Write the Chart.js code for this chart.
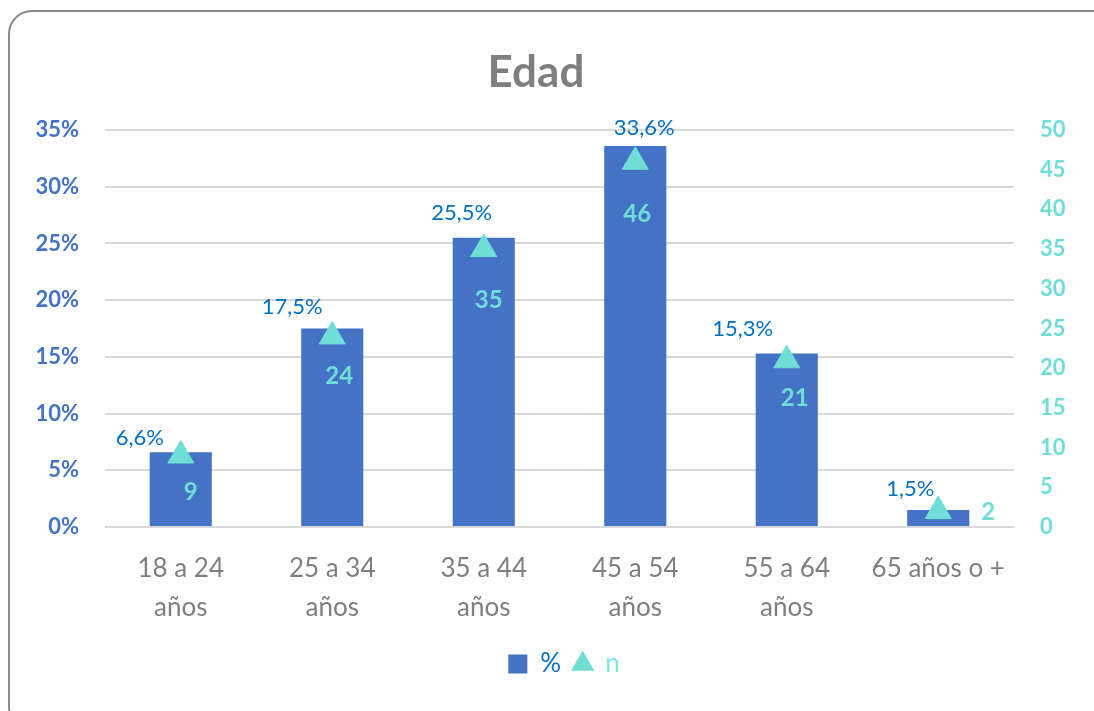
<!DOCTYPE html>
<html>
<head>
<meta charset="utf-8">
<script src="https://cdn.jsdelivr.net/npm/chart.js@4.4.1/dist/chart.umd.min.js"></script>
<style>
    html, body { margin: 0; padding: 0; background: #fff; overflow: hidden; }
    #wrap { position: relative; width: 1094px; height: 711px; }
    #frame {
        position: absolute; left: 8px; top: 10px; width: 1110px; height: 720px;
        border: 2px solid #8a8a8a; border-radius: 24px; box-sizing: border-box;
    }
    #edadChart { position: absolute; left: 0; top: 0; }
</style>
</head>
<body>
<div id="wrap">
    <div id="frame"></div>
    <canvas id="edadChart" width="1094" height="711"></canvas>
</div>
<script>
// ================================
// EDAD - BAR + TRIANGLE CHART
// ================================

const categories = [["18 a 24", "años"], ["25 a 34", "años"], ["35 a 44", "años"], ["45 a 54", "años"], ["55 a 64", "años"], "65 años o +"];
const pctValues = [6.6, 17.5, 25.5, 33.6, 15.3, 1.5];
const nValues = [9, 24, 35, 46, 21, 2];
const pctTicks = [0, 5, 10, 15, 20, 25, 30, 35];
const nTicks = [0, 5, 10, 15, 20, 25, 30, 35, 40, 45, 50];
const chartTitle = "Edad";

const BLUE = "#4472C4";
const LABEL_BLUE = "#0070C0";
const TURQ = "#6EDED6";
const FONT = "Lato, 'Open Sans', sans-serif";

/* ------------------------------
   TITLE + DATA LABELS (Excel-like placement)
------------------------------ */
const pctOffsets = [[-41, -14], [-40, -22], [-22, -25], [9, -18], [-44, -25], [-28, -21]];
const nOffsets = [[10, 37], [7, 40], [5, 51], [2, 53], [8, 38], [50, 1]];

const labelPlugin = {
    id: "edadLabels",
    afterDatasetsDraw(chart) {
        const c = chart.ctx;
        c.save();
        c.textAlign = "center";
        c.textBaseline = "middle";

        // title sits a bit left of the canvas centre, like the original
        c.font = "bold 44px " + FONT;
        c.fillStyle = "#7F7F7F";
        c.fillText(chartTitle, 536, 73);

        chart.getDatasetMeta(0).data.forEach((bar, i) => {
            c.font = "22px " + FONT;
            c.fillStyle = LABEL_BLUE;
            c.fillText(pctValues[i].toFixed(1).replace(".", ",") + "%", bar.x + pctOffsets[i][0], bar.y + pctOffsets[i][1]);
        });

        chart.getDatasetMeta(1).data.forEach((pt, i) => {
            c.font = "bold 24px " + FONT;
            c.fillStyle = TURQ;
            c.fillText(String(nValues[i]), pt.x + nOffsets[i][0], pt.y + nOffsets[i][1]);
        });
        c.restore();
    }
};

document.addEventListener("DOMContentLoaded", () => {
    const ctx = document.getElementById("edadChart");

    new Chart(ctx, {
        data: {
            labels: categories,
            datasets: [
                {
                    type: "bar",
                    label: "%",
                    data: pctValues,
                    backgroundColor: BLUE,
                    yAxisID: "y",
                    barPercentage: 0.41,
                    categoryPercentage: 1,
                    pointStyle: "rect",
                    order: 2
                },
                {
                    type: "line",
                    label: "n",
                    data: nValues,
                    yAxisID: "y1",
                    showLine: false,
                    pointStyle: "triangle",
                    pointRadius: 15,
                    pointBackgroundColor: TURQ,
                    pointBorderColor: TURQ,
                    backgroundColor: TURQ,
                    borderColor: TURQ,
                    order: 1
                }
            ]
        },
        options: {
            responsive: false,
            animation: false,
            // left padding only nudges the legend to the right; the y axis width compensates
            layout: { padding: { left: 34, right: 0, top: 130, bottom: 24 } },
            plugins: {
                tooltip: { enabled: false },
                title: { display: false },
                legend: {
                    position: "bottom",
                    labels: {
                        usePointStyle: true,
                        boxWidth: 19,
                        boxHeight: 19,
                        padding: 12,
                        font: { family: FONT, size: 26 },
                        generateLabels(chart) {
                            return chart.data.datasets.map((ds, i) => ({
                                text: ds.label,
                                fillStyle: i === 0 ? BLUE : TURQ,
                                strokeStyle: i === 0 ? BLUE : TURQ,
                                lineWidth: 0,
                                pointStyle: ds.pointStyle,
                                fontColor: i === 0 ? LABEL_BLUE : "#80E6DF",
                                datasetIndex: i
                            }));
                        }
                    }
                }
            },
            scales: {
                x: {
                    grid: { display: false },
                    border: { display: false },
                    ticks: {
                        color: "#7F7F7F",
                        font: { family: FONT, size: 26, weight: 400, lineHeight: 1.5 },
                        maxRotation: 0,
                        autoSkip: false,
                        padding: 14
                    },
                    afterFit(scale) { scale.height = 112; }
                },
                y: {
                    position: "left",
                    min: 0,
                    max: 35,
                    afterBuildTicks(scale) { scale.ticks = pctTicks.map(v => ({ value: v })); },
                    grid: { color: "#D9D9D9", lineWidth: 2, drawTicks: false },
                    border: { display: false },
                    ticks: {
                        color: BLUE,
                        font: { family: FONT, size: 22, weight: "bold" },
                        padding: 26,
                        callback: v => v + "%"
                    },
                    afterFit(scale) { scale.width = 71; }
                },
                y1: {
                    position: "right",
                    min: 0,
                    max: 50,
                    afterBuildTicks(scale) { scale.ticks = nTicks.map(v => ({ value: v })); },
                    grid: { display: false, drawTicks: false },
                    border: { display: false },
                    ticks: {
                        color: TURQ,
                        font: { family: FONT, size: 22, weight: "bold" },
                        padding: 26
                    },
                    afterFit(scale) { scale.width = 80; }
                }
            }
        },
        plugins: [labelPlugin]
    });
});
</script>
</body>
</html>
